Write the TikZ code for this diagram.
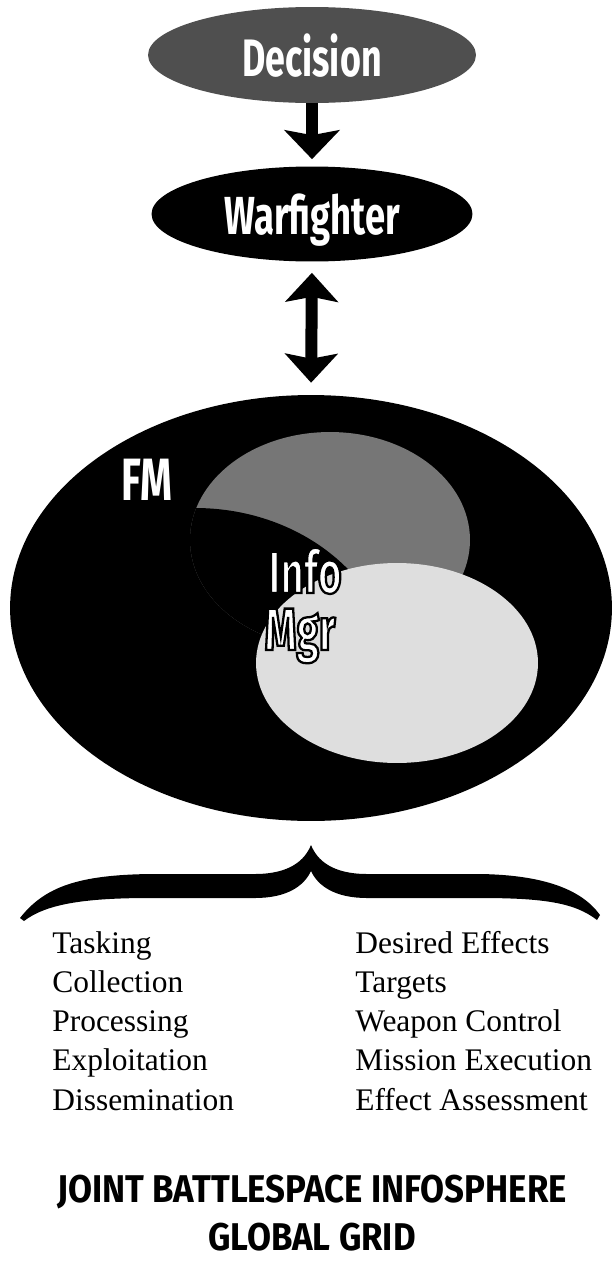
\documentclass[tikz,border=0pt]{standalone}
\usepackage{fontspec}
\setmainfont{Liberation Serif}
\newfontfamily\headfont{Fira Sans}[FakeStretch=0.68]
\newfontfamily\titlefont{Fira Sans}[FakeStretch=0.9]
\usetikzlibrary{arrows.meta, positioning, shapes.geometric}
\definecolor{decfill}{HTML}{4F4F4F}
\definecolor{fmgray}{HTML}{767676}
\definecolor{mgrlight}{HTML}{DEDEDE}
% white letters with a thin black rim
\newcommand{\rimtext}[1]{\special{pdf:literal direct 0 G 1.3 w 2 Tr}#1\special{pdf:literal direct 0 Tr}}

\begin{document}
\begin{tikzpicture}[x=0.02cm, y=-0.02cm,
    every node/.style={inner sep=0pt},
    oval/.style={ellipse, inner sep=0pt, text depth=0pt, text=white, font=\headfont\bfseries\fontsize{30}{30}\selectfont},
    zone/.style={ellipse, inner sep=0pt},
    lbl/.style={anchor=base, text=white, font=\headfont\bfseries\fontsize{34}{34}\selectfont},
    listtxt/.style={anchor=base west, font=\fontsize{17.9}{21}\selectfont},
    ttl/.style={anchor=base, font=\titlefont\bfseries\fontsize{22}{22}\selectfont},
    fat/.style={line width=0.23cm, -{Stealth[width=1.1cm, length=0.58cm, inset=0.1cm]}},
    fatboth/.style={line width=0.24cm, {Stealth[width=1.05cm, length=0.58cm, inset=0.1cm]}-{Stealth[width=1.05cm, length=0.58cm, inset=0.1cm]}}
]
\useasboundingbox (0,0) rectangle (614,1261);

% top ovals
\node[oval, fill=decfill, minimum width=6.56cm, minimum height=1.92cm] (dec) at (312,55) {Decision};
\node[oval, fill=black, minimum width=6.42cm, minimum height=1.9cm, font=\headfont\bfseries\fontsize{30.5}{30}\selectfont] (war) at (312,214) {Warfighter};

% infosphere
\node[zone, fill=black, minimum width=12.04cm, minimum height=8.52cm] (jbi) at (311,608) {};
\node[zone, fill=fmgray, minimum width=5.6cm, minimum height=4.32cm] (cmd) at (330,540) {};
\begin{scope}
  \clip (330,540) ellipse [x radius=140, y radius=108];
  \fill[black] (195,680) ellipse [x radius=200, y radius=172];
\end{scope}
\node[zone, fill=mgrlight, minimum width=5.64cm, minimum height=4.0cm] (imz) at (397,663) {};

\draw[fat, shorten >=0.14cm] (dec.south) -- (war.north);
\draw[fatboth, shorten >=0.24cm, shorten <=0.22cm] (war.south) -- (jbi.north);

% labels
\node[lbl] (fm) at (147,500) {FM};
\node[lbl] (info) at (305,593) {\rimtext{Info}};
\node[lbl] (mgr) at (300,650) {\rimtext{Mgr}};

% brace
\fill[black] (20,918) .. controls (45,886) and (80,875) .. (150,874) -- (255,874)
  .. controls (290,874) and (305,860) .. (311,845)
  .. controls (317,860) and (332,874) .. (367,874) -- (480,874)
  .. controls (545,875) and (582,890) .. (600,915)
  -- (597,920) .. controls (575,903) and (545,898) .. (480,898) -- (367,898)
  .. controls (335,898) and (318,886) .. (311,871)
  .. controls (304,886) and (287,898) .. (255,898) -- (150,898)
  .. controls (80,898) and (45,905) .. (24,921) -- cycle;

% lists
\foreach \w [count=\i] in {Tasking, Collection, Processing, Exploitation, Dissemination}
  \node[listtxt] (lft\i) at (52, {953+39.25*(\i-1)}) {\w};
\foreach \w [count=\i] in {Desired Effects, Targets, Weapon Control, Mission Execution, Effect Assessment}
  \node[listtxt] (rgt\i) at (355, {953+39.25*(\i-1)}) {\w};

% title
\node[ttl] (ttl1) at (312,1202) {JOINT BATTLESPACE INFOSPHERE};
\node[ttl] (ttl2) at (312,1250) {GLOBAL GRID};
\end{tikzpicture}
\end{document}
